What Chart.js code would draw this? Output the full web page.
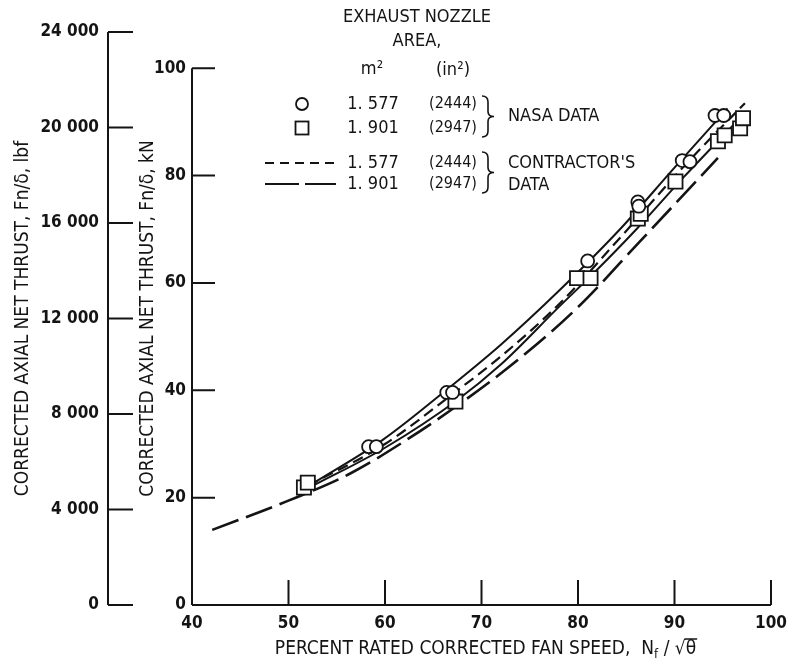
<!DOCTYPE html>
<html>
<head>
<meta charset="utf-8">
<script src="https://cdn.jsdelivr.net/npm/chart.js@4"></script>
<style>
  html, body { margin: 0; padding: 0; background: #fff; }
  #wrap { width: 789px; height: 662px; }
</style>
</head>
<body>
<div id="wrap"><canvas id="thrustChart" width="789" height="662"></canvas></div>
<script>
const FONT = "'DejaVu Sans Condensed', 'Liberation Sans Narrow', sans-serif";
const INK = '#141414';

// tick values
const speedTicks = [40, 50, 60, 70, 80, 90, 100];
const kNTicks = [0, 20, 40, 60, 80, 100];
const lbfTicks = [0, 4000, 8000, 12000, 16000, 20000, 24000];

// NASA data, 1.577 m2 nozzle (circles)
const nasaSmallSpeed = [58.3, 59.1, 66.4, 67.0, 81.0, 86.2, 86.3, 90.8, 91.6, 94.2, 95.1];
const nasaSmallThrust = [29.5, 29.5, 39.6, 39.6, 64.1, 75.1, 74.3, 82.8, 82.6, 91.2, 91.2];
// NASA data, 1.901 m2 nozzle (squares)
const nasaLargeSpeed = [51.6, 52.0, 67.3, 79.9, 81.3, 86.2, 86.5, 90.1, 94.5, 95.2, 96.8, 97.1];
const nasaLargeThrust = [21.9, 22.8, 37.9, 60.9, 60.9, 72.0, 72.9, 78.9, 86.4, 87.5, 88.8, 90.7];

// faired curves through the NASA data
const fairSmallSpeed = [52.5, 59.8, 67, 72, 78, 84.4, 90, 95.5];
const fairSmallThrust = [22.6, 30.8, 41.0, 48.5, 58.5, 70.1, 81.5, 92.5];
const fairLargeSpeed = [52.3, 60, 67.5, 72, 78, 82, 86.1, 91, 97.2];
const fairLargeThrust = [22.0, 29.3, 38.2, 44.8, 55.5, 62.5, 70.1, 79.8, 91.5];

// contractor's data
const contrSmallSpeed = [52, 60, 67, 72, 78, 85.2, 91, 97.3];
const contrSmallThrust = [22.2, 30.0, 39.3, 46.3, 56.0, 70.1, 81.8, 93.5];
const contrLargeSpeed = [42.1, 49.8, 56.4, 62, 68, 74, 80, 86.4, 94.5];
const contrLargeThrust = [14.0, 19.3, 24.5, 30.5, 37.8, 46, 55.5, 67.7, 83.3];

const LBF_PER_KN = 224.81;
const SHORT_DASH = [11, 6];
const LONG_DASH = [28, 8];

function pts(xs, ys) {
    return xs.map((x, i) => ({ x: x, y: ys[i] }));
}

function pointSet(label, xs, ys, style, r) {
    return {
        label: label, data: pts(xs, ys), yAxisID: 'yKN',
        showLine: false, pointStyle: style, pointRadius: r,
        pointBorderWidth: 1.8, pointBorderColor: INK, pointBackgroundColor: '#fff'
    };
}

function curveSet(label, xs, ys, dash, width) {
    return {
        label: label, data: pts(xs, ys), yAxisID: 'yKN',
        showLine: true, pointRadius: 0, borderColor: INK, borderWidth: width,
        borderDash: dash, cubicInterpolationMode: 'monotone', fill: false
    };
}

function brace(ctx, x, y1, y2) {
    const m = (y1 + y2) / 2, w = 6;
    ctx.beginPath();
    ctx.moveTo(x - w, y1);
    ctx.quadraticCurveTo(x, y1, x, y1 + 6);
    ctx.lineTo(x, m - 5);
    ctx.quadraticCurveTo(x, m, x + w, m);
    ctx.quadraticCurveTo(x, m, x, m + 5);
    ctx.lineTo(x, y2 - 6);
    ctx.quadraticCurveTo(x, y2, x - w, y2);
    ctx.stroke();
}

// axis lines and inward tick marks, placed through the scales
const axisPlugin = {
    id: 'axisPlugin',
    afterDraw(chart) {
        const { ctx, chartArea } = chart;
        const sx = chart.scales.x, sk = chart.scales.yKN, sl = chart.scales.yLbf;
        ctx.save();
        ctx.strokeStyle = INK;
        ctx.lineWidth = 2;
        ctx.setLineDash([]);
        ctx.beginPath();
        // outer lbf axis
        const ox = sl.right;
        ctx.moveTo(ox, sl.getPixelForValue(0));
        ctx.lineTo(ox, sl.getPixelForValue(24000));
        lbfTicks.forEach(v => {
            const y = sl.getPixelForValue(v);
            ctx.moveTo(ox, y); ctx.lineTo(ox + 25, y);
        });
        // inner kN axis
        const ix = chartArea.left;
        ctx.moveTo(ix, sk.getPixelForValue(0));
        ctx.lineTo(ix, sk.getPixelForValue(100));
        kNTicks.forEach(v => {
            const y = sk.getPixelForValue(v);
            ctx.moveTo(ix, y); ctx.lineTo(ix + 23, y);
        });
        // speed axis
        const by = chartArea.bottom;
        ctx.moveTo(sx.getPixelForValue(40), by);
        ctx.lineTo(sx.getPixelForValue(100), by);
        speedTicks.forEach(v => {
            const x = sx.getPixelForValue(v);
            ctx.moveTo(x, by); ctx.lineTo(x, by - 25);
        });
        ctx.stroke();

        // x axis title with subscript and radical
        ctx.fillStyle = INK;
        ctx.textBaseline = 'alphabetic';
        const big = `19px ${FONT}`, small = `13px ${FONT}`;
        const parts = [
            ['PERCENT RATED CORRECTED FAN SPEED,  N', big, 0],
            ['f', small, 4],
            [' / ', big, 0],
            ['\u221A', big, 0],
            ['\u03B8', big, 0]
        ];
        let total = 0;
        parts.forEach(p => { ctx.font = p[1]; p.push(ctx.measureText(p[0]).width); total += p[3]; });
        let x = (chartArea.left + chartArea.right) / 2 + 4 - total / 2;
        const base = 654;
        let thetaX = 0, thetaW = 0;
        parts.forEach(p => {
            ctx.font = p[1];
            ctx.textAlign = 'left';
            ctx.fillText(p[0], x, base + p[2]);
            if (p[0] === '\u03B8') { thetaX = x; thetaW = p[3]; }
            x += p[3];
        });
        ctx.lineWidth = 1.5;
        ctx.beginPath();
        ctx.moveTo(thetaX - 1, base - 15);
        ctx.lineTo(thetaX + thetaW + 1, base - 15);
        ctx.stroke();
        ctx.restore();
    }
};

// key in the upper middle of the plot
const keyPlugin = {
    id: 'keyPlugin',
    afterDraw(chart) {
        const ctx = chart.ctx;
        const f = `18px ${FONT}`, fs = `16px ${FONT}`;
        ctx.save();
        ctx.fillStyle = INK;
        ctx.strokeStyle = INK;
        ctx.textBaseline = 'middle';
        ctx.textAlign = 'center';
        ctx.font = f;
        ctx.fillText('EXHAUST NOZZLE', 417, 17);
        ctx.fillText('AREA,', 417, 41);
        ctx.fillText('m\u00B2', 372, 69);
        ctx.fillText('(in\u00B2)', 453, 70);

        const rows = [
            { y: 104, m2: '1. 577', in2: '(2444)' },
            { y: 128, m2: '1. 901', in2: '(2947)' },
            { y: 163, m2: '1. 577', in2: '(2444)' },
            { y: 184, m2: '1. 901', in2: '(2947)' }
        ];
        rows.forEach(r => {
            ctx.font = f;
            ctx.fillText(r.m2, 373, r.y);
            ctx.font = fs;
            ctx.fillText(r.in2, 453, r.y);
        });

        // open markers
        ctx.lineWidth = 1.8;
        ctx.beginPath();
        ctx.arc(302, 104, 6, 0, Math.PI * 2);
        ctx.stroke();
        ctx.strokeRect(295.5, 121.5, 13, 13);

        ctx.lineWidth = 2;
        ctx.beginPath();
        ctx.setLineDash([9, 6]);
        ctx.moveTo(265, 163); ctx.lineTo(336, 163);
        ctx.stroke();
        ctx.beginPath();
        ctx.setLineDash([34, 6]);
        ctx.moveTo(265, 184); ctx.lineTo(336, 184);
        ctx.stroke();
        ctx.setLineDash([]);

        ctx.lineWidth = 1.6;
        brace(ctx, 488, 96, 137);
        brace(ctx, 488, 152, 193);

        ctx.font = f;
        ctx.textAlign = 'left';
        ctx.fillText('NASA DATA', 508, 116);
        ctx.fillText("CONTRACTOR'S", 508, 163);
        ctx.fillText('DATA', 508, 185);
        ctx.restore();
    }
};

const tickFont = { family: FONT, size: 17, weight: 'bold' };
const titleFont = { family: FONT, size: 19 };

new Chart(document.getElementById('thrustChart'), {
    type: 'scatter',
    data: {
        datasets: [
            pointSet('NASA 1.577', nasaSmallSpeed, nasaSmallThrust, 'circle', 6.5),
            pointSet('NASA 1.901', nasaLargeSpeed, nasaLargeThrust, 'rect', 10),
            curveSet('Faired 1.577', fairSmallSpeed, fairSmallThrust, [], 2),
            curveSet('Faired 1.901', fairLargeSpeed, fairLargeThrust, [], 2),
            curveSet("Contractor's 1.577", contrSmallSpeed, contrSmallThrust, SHORT_DASH, 2.2),
            curveSet("Contractor's 1.901", contrLargeSpeed, contrLargeThrust, LONG_DASH, 2.6)
        ]
    },
    options: {
        responsive: false,
        animation: false,
        devicePixelRatio: 1,
        layout: { padding: { top: 32, right: 18, left: 0, bottom: 0 } },
        plugins: { legend: { display: false }, tooltip: { enabled: false } },
        scales: {
            x: {
                type: 'linear', min: 40, max: 100,
                afterBuildTicks: s => { s.ticks = speedTicks.map(v => ({ value: v })); },
                afterFit: s => { s.height = 57; s.paddingRight = 0; s.paddingLeft = 0; },
                grid: { display: false, drawTicks: false },
                border: { display: false },
                ticks: { font: tickFont, color: INK, padding: 8, maxRotation: 0, autoSkip: false }
            },
            yKN: {
                type: 'linear', position: 'left', weight: 1, min: 0, max: 24000 / LBF_PER_KN,
                afterBuildTicks: s => { s.ticks = kNTicks.map(v => ({ value: v })); },
                afterFit: s => { s.width = 84; },
                grid: { display: false, drawTicks: false },
                border: { display: false },
                ticks: { font: tickFont, color: INK, padding: 6, autoSkip: false },
                title: {
                    display: true, text: 'CORRECTED AXIAL NET THRUST, Fn/\u03B4, kN',
                    font: titleFont, color: INK, padding: { top: 29, bottom: 0 }
                }
            },
            yLbf: {
                type: 'linear', position: 'left', weight: 10, min: 0, max: 24000,
                afterBuildTicks: s => { s.ticks = lbfTicks.map(v => ({ value: v })); },
                afterFit: s => { s.width = 108; },
                grid: { display: false, drawTicks: false },
                border: { display: false },
                ticks: {
                    font: tickFont, color: INK, padding: 9, autoSkip: false,
                    callback: v => v >= 1000 ? Math.floor(v / 1000) + ' 000' : String(v)
                },
                title: {
                    display: true, text: 'CORRECTED AXIAL NET THRUST, Fn/\u03B4, lbf',
                    font: titleFont, color: INK, padding: { top: 12, bottom: 0 }
                }
            }
        }
    },
    plugins: [axisPlugin, keyPlugin]
});
</script>
</body>
</html>
